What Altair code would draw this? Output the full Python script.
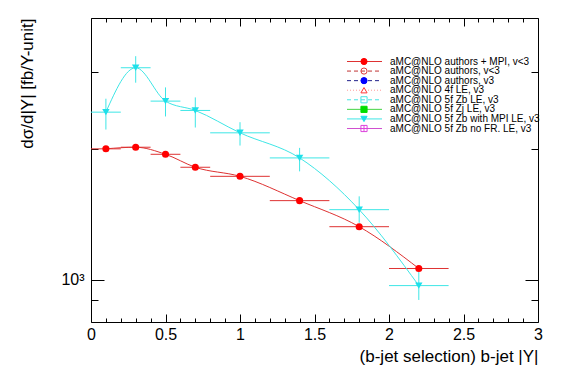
import altair as alt
import pandas as pd

# ---- data ----
x_center = [0.1, 0.3, 0.5, 0.7, 1.0, 1.4, 1.8, 2.2]
x_low = [0.0, 0.2, 0.4, 0.6, 0.8, 1.2, 1.6, 2.0]
x_high = [0.2, 0.4, 0.6, 0.8, 1.2, 1.6, 2.0, 2.4]
red_values = [2001, 2018, 1944, 1815, 1730, 1521, 1325, 1062]
cyan_values = [2430, 3074, 2576, 2452, 2178, 1907, 1450, 970]
cyan_low = [2216, 2840, 2375, 2240, 2036, 1776, 1353, 899]
cyan_high = [2609, 3268, 2770, 2627, 2304, 2011, 1556, 1045]

legend_labels = [
    "aMC@NLO authors + MPI, v<3",
    "aMC@NLO authors, v<3",
    "aMC@NLO authors, v3",
    "aMC@NLO 4f LE, v3",
    "aMC@NLO 5f Zb LE, v3",
    "aMC@NLO 5f Zj LE, v3",
    "aMC@NLO 5f Zb with MPI LE, v3",
    "aMC@NLO 5f Zb no FR. LE, v3",
]

x_major_ticks = [0, 0.5, 1, 1.5, 2, 2.5, 3]
x_minor_ticks = [0.1, 0.2, 0.3, 0.4, 0.6, 0.7, 0.8, 0.9, 1.1, 1.2, 1.3, 1.4,
                 1.6, 1.7, 1.8, 1.9, 2.1, 2.2, 2.3, 2.4, 2.6, 2.7, 2.8, 2.9]
y_major_ticks = [1000]
y_minor_ticks = [900, 2000, 3000]

# ---- styles ----
FONT = "Liberation Sans"
W, H = 447, 304
RED_LINE = "#de3232"
RED_MARK = "#ff0000"
CYAN_LINE = "#3ee6e6"
CYAN_MARK = "#1ee0ea"

legend_line_colors = ["#de3232", "#c03434", "#22228c", "#ff9a9a",
                      "#48e4e4", "#44d444", "#3ee6e6", "#d050d0"]
legend_mark_stroke = ["#ff0000", "#e03a3a", "#0000ff", "#ff3a3a",
                      "#48e4e4", "#00dd00", "#1ee0ea", "#dd44dd"]
legend_mark_fill = ["#ff0000", "transparent", "#0000ff", "transparent",
                    "transparent", "#00dd00", "#1ee0ea", "transparent"]
legend_shapes = ["circle", "circle", "circle", "triangle-up", "square",
                 "square", "triangle-down", "M-1,-1H1V1H-1ZM0,-1V1M-1,0H1"]
legend_dashes = [[1, 0], [4, 3], [4, 3], [1, 2], [4, 3], [1, 0], [1, 0], [1, 0]]

df = pd.DataFrame({
    "x": x_center, "xlo": x_low, "xhi": x_high,
    "red": red_values, "cyan": cyan_values,
    "cyan_lo": cyan_low, "cyan_hi": cyan_high,
})
leg = pd.DataFrame({"label": legend_labels})

xs = alt.Scale(domain=[0, 3], nice=False, zero=False)
ys = alt.Scale(type="log", domain=[800, 4000], nice=False)


def tick_axis(orient, offset, values, size):
    return alt.Axis(orient=orient, offset=offset, values=values, tickSize=size,
                    ticks=True, labels=False, domain=False, grid=False,
                    title=None, tickColor="black", tickWidth=1)


x_label_axis = alt.Axis(
    orient="bottom", values=x_major_ticks, ticks=False, domain=False, grid=False,
    format="~g", labelFont=FONT, labelFontSize=16, labelColor="black",
    labelPadding=4, labelFlush=False,
    title="(b-jet selection) b-jet |Y|", titleFont=FONT, titleFontSize=17,
    titleFontWeight="normal", titleColor="black", titleAnchor="end",
    titleAlign="right", titleBaseline="alphabetic", titleX=W, titleY=39,
)
y_label_axis = alt.Axis(
    orient="left", values=y_major_ticks, ticks=False, domain=False, grid=False,
    labelExpr="'10³'", labelFont=FONT, labelFontSize=16, labelColor="black",
    labelPadding=7,
    title="dσ/d|Y| [fb/Y-unit]", titleFont=FONT, titleFontSize=17,
    titleFontWeight="normal", titleColor="black", titleAngle=270,
    titleAlign="right", titleBaseline="middle", titleX=-64, titleY=0,
)

base = alt.Chart(df)

red_err = base.mark_rule(color=RED_LINE, strokeWidth=1).encode(
    x=alt.X("xlo:Q", scale=xs, axis=x_label_axis), x2="xhi:Q",
    y=alt.Y("red:Q", scale=ys, axis=y_label_axis),
)
red_line = base.mark_line(color=RED_LINE, strokeWidth=1, interpolate="monotone").encode(
    x=alt.X("x:Q", scale=xs, axis=tick_axis("top", -H, x_major_ticks, 8)),
    y=alt.Y("red:Q", scale=ys, axis=tick_axis("right", -W, y_major_ticks, 13)),
)
red_pts = base.mark_point(shape="circle", filled=True, size=50, color=RED_MARK,
                          opacity=1).encode(
    x=alt.X("x:Q", scale=xs, axis=tick_axis("top", -H, x_minor_ticks, 4)),
    y=alt.Y("red:Q", scale=ys, axis=tick_axis("right", -W, y_minor_ticks, 7)),
)
cyan_xerr = base.mark_rule(color=CYAN_LINE, strokeWidth=1).encode(
    x=alt.X("xlo:Q", scale=xs, axis=tick_axis("bottom", -H, x_major_ticks, 8)),
    x2="xhi:Q",
    y=alt.Y("cyan:Q", scale=ys, axis=tick_axis("left", -W, y_major_ticks, 13)),
)
cyan_yerr = base.mark_rule(color=CYAN_LINE, strokeWidth=1).encode(
    x=alt.X("x:Q", scale=xs, axis=tick_axis("bottom", -H, x_minor_ticks, 4)),
    y=alt.Y("cyan_lo:Q", scale=ys, axis=tick_axis("left", -W, y_minor_ticks, 7)),
    y2="cyan_hi:Q",
)
cyan_line = base.mark_line(color=CYAN_LINE, strokeWidth=1, interpolate="monotone").encode(
    x=alt.X("x:Q", scale=xs, axis=None),
    y=alt.Y("cyan:Q", scale=ys, axis=None),
)
cyan_pts = base.mark_point(shape="triangle-down", filled=True, size=55,
                           color=CYAN_MARK, opacity=1).encode(
    x=alt.X("x:Q", scale=xs, axis=None),
    y=alt.Y("cyan:Q", scale=ys, axis=None),
)

data_layer = alt.layer(red_err, cyan_xerr, cyan_yerr, red_line, cyan_line,
                       red_pts, cyan_pts).resolve_axis(x="independent", y="independent")

# ---- legend ----
ly = alt.Y("label:N", sort=legend_labels,
           scale=alt.Scale(type="point", domain=legend_labels, range=[43.5, 110.5], padding=0),
           axis=None)
lbase = alt.Chart(leg)
leg_lines = lbase.mark_rule(strokeWidth=1).encode(
    x=alt.value(256), x2=alt.value(291), y=ly,
    color=alt.Color("label:N", scale=alt.Scale(domain=legend_labels, range=legend_line_colors), legend=None),
    strokeDash=alt.StrokeDash("label:N", scale=alt.Scale(domain=legend_labels, range=legend_dashes), legend=None),
)
leg_marks = lbase.mark_point(filled=True, size=38, opacity=1, strokeWidth=1).encode(
    x=alt.value(273), y=ly,
    shape=alt.Shape("label:N", scale=alt.Scale(domain=legend_labels, range=legend_shapes), legend=None),
    fill=alt.Fill("label:N", scale=alt.Scale(domain=legend_labels, range=legend_mark_fill), legend=None),
    stroke=alt.Stroke("label:N", scale=alt.Scale(domain=legend_labels, range=legend_mark_stroke), legend=None),
)
leg_text = lbase.mark_text(align="left", baseline="middle", font=FONT, fontSize=10,
                           color="black").encode(
    x=alt.value(299), y=ly, text="label:N",
)
legend_layer = alt.layer(leg_lines, leg_marks, leg_text)

chart = alt.layer(data_layer, legend_layer).resolve_scale(y="independent").properties(
    width=W, height=H,
    padding={"left": 83, "top": 10, "right": 20, "bottom": 50},
    autosize=alt.AutoSizeParams(type="none"),
    background="white",
).configure_view(stroke="black", strokeWidth=1)

chart.save("out.html", embed_options={"renderer": "svg", "actions": False})
